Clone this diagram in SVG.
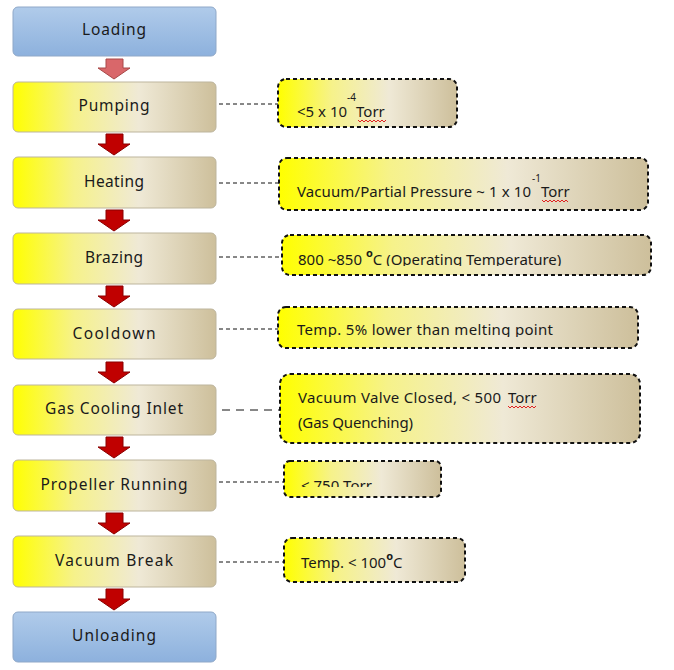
<svg xmlns="http://www.w3.org/2000/svg" width="674" height="670" viewBox="0 0 674 670">
<defs>
  <linearGradient id="gy" x1="0" y1="0" x2="1" y2="0">
    <stop offset="0" stop-color="#ffff00"/>
    <stop offset="0.3" stop-color="#f6f28a"/>
    <stop offset="0.62" stop-color="#efe9d6"/>
    <stop offset="1" stop-color="#cdbf9b"/>
  </linearGradient>
  <linearGradient id="gb" x1="0" y1="0" x2="0" y2="1">
    <stop offset="0" stop-color="#b0cbea"/>
    <stop offset="1" stop-color="#8db1dd"/>
  </linearGradient>
  <clipPath id="c3"><rect x="282" y="235" width="370" height="31"/></clipPath>
  <clipPath id="c4"><rect x="278" y="307" width="360" height="30"/></clipPath>
  <clipPath id="c6"><rect x="284" y="461" width="157" height="26"/></clipPath>
</defs>
<style>
  .step{fill:url(#gy);stroke:#bdb59d;stroke-width:1}
  .end{fill:url(#gb);stroke:#8fa8c8;stroke-width:1}
  .lbl{font-family:"Noto Sans","DejaVu Sans",sans-serif;font-size:15.5px;fill:#1a1a1a;text-anchor:middle}
  .call{fill:url(#gy);stroke:#111;stroke-width:2;stroke-dasharray:4 3}
  .ct{font-family:"Noto Sans","DejaVu Sans",sans-serif;font-size:15px;fill:#1a1a1a}
  .sup{font-size:10px}
  .deg{font-size:11px;font-weight:bold}
  .arr{fill:#c00000;stroke:#8a0000;stroke-width:1}
  .arr1{fill:#d9676a;stroke:#a84848;stroke-width:1}
  .dash{stroke:#111;stroke-width:1;stroke-dasharray:4 3;fill:none}
  .wave{stroke:#e02020;stroke-width:1;fill:none}
</style>

<g id="connectors">
  <path class="arr1" d="M106,59 H123 V68 H130 L114,79 L98,68 H106 Z"/>
  <path class="arr" d="M106,134 H123 V144 H130 L114,155 L98,144 H106 Z"/>
  <path class="arr" d="M106,210 H123 V220 H130 L114,231 L98,220 H106 Z"/>
  <path class="arr" d="M106,286 H123 V296 H130 L114,307 L98,296 H106 Z"/>
  <path class="arr" d="M106,362 H123 V372 H130 L114,383 L98,372 H106 Z"/>
  <path class="arr" d="M106,437 H123 V447 H130 L114,458 L98,447 H106 Z"/>
  <path class="arr" d="M106,513 H123 V523 H130 L114,534 L98,523 H106 Z"/>
  <path class="arr" d="M106,589 H123 V599 H130 L114,610 L98,599 H106 Z"/>
  <line class="dash" x1="219" y1="104" x2="278" y2="104"/>
  <line class="dash" x1="219" y1="183" x2="279" y2="183"/>
  <line class="dash" x1="219" y1="257" x2="282" y2="257"/>
  <line class="dash" x1="219" y1="329" x2="278" y2="329"/>
  <line x1="222" y1="410" x2="280" y2="410" stroke="#111" stroke-width="1" stroke-dasharray="8 6"/>
  <line class="dash" x1="219" y1="482" x2="284" y2="482"/>
  <line class="dash" x1="219" y1="562" x2="284" y2="562"/>
</g>

<g id="loading"><rect class="end" x="13" y="7" width="203" height="49" rx="5"/><text class="lbl" x="114" y="35" textLength="64" lengthAdjust="spacing">Loading</text></g>
<g id="pumping"><rect class="step" x="13" y="82" width="203" height="50" rx="5"/><text class="lbl" x="114" y="111" textLength="71" lengthAdjust="spacing">Pumping</text></g>
<g id="heating"><rect class="step" x="13" y="157" width="203" height="51" rx="5"/><text class="lbl" x="114" y="187" textLength="60" lengthAdjust="spacing">Heating</text></g>
<g id="brazing"><rect class="step" x="13" y="233" width="203" height="51" rx="5"/><text class="lbl" x="114" y="263" textLength="58" lengthAdjust="spacing">Brazing</text></g>
<g id="cooldown"><rect class="step" x="13" y="309" width="203" height="50" rx="5"/><text class="lbl" x="114" y="339" textLength="83" lengthAdjust="spacing">Cooldown</text></g>
<g id="gascooling"><rect class="step" x="13" y="385" width="203" height="50" rx="5"/><text class="lbl" x="114" y="414" textLength="138" lengthAdjust="spacing">Gas Cooling Inlet</text></g>
<g id="propeller"><rect class="step" x="13" y="460" width="203" height="51" rx="5"/><text class="lbl" x="114" y="490" textLength="147" lengthAdjust="spacing">Propeller Running</text></g>
<g id="vacuumbreak"><rect class="step" x="13" y="536" width="203" height="51" rx="5"/><text class="lbl" x="114" y="566" textLength="118" lengthAdjust="spacing">Vacuum Break</text></g>
<g id="unloading"><rect class="end" x="13" y="612" width="203" height="50" rx="5"/><text class="lbl" x="114" y="641" textLength="84" lengthAdjust="spacing">Unloading</text></g>

<g id="note-pumping">
  <rect class="call" x="278" y="79" width="179" height="48" rx="8"/>
  <text class="ct" x="297" y="117">&lt;5 x 10<tspan class="sup" dy="-16">-4</tspan><tspan dy="16">Torr</tspan></text>
  <path class="wave" d="M358,120 l2,2 l2,-2 l2,2 l2,-2 l2,2 l2,-2 l2,2 l2,-2 l2,2 l2,-2 l2,2 l2,-2 l2,2 l2,-2"/>
</g>
<g id="note-heating">
  <rect class="call" x="279" y="158" width="369" height="52" rx="8"/>
  <text class="ct" x="297" y="197" textLength="234" lengthAdjust="spacing">Vacuum/Partial Pressure ~ 1 x 10</text>
  <text class="ct" x="532" y="197"><tspan class="sup" dy="-15">-1</tspan><tspan dy="15">Torr</tspan></text>
  <path class="wave" d="M542,200 l2,2 l2,-2 l2,2 l2,-2 l2,2 l2,-2 l2,2 l2,-2 l2,2 l2,-2 l2,2 l2,-2 l2,2"/>
</g>
<g id="note-brazing">
  <rect class="call" x="282" y="235" width="369" height="40" rx="8"/>
  <g clip-path="url(#c3)">
    <text class="ct" x="298" y="265">800 ~850 <tspan class="deg" dy="-8">o</tspan><tspan dy="8">C (Operating Temperature)</tspan></text>
  </g>
</g>
<g id="note-cooldown">
  <rect class="call" x="278" y="307" width="360" height="41" rx="8"/>
  <g clip-path="url(#c4)">
    <text class="ct" x="297" y="335" textLength="256" lengthAdjust="spacing">Temp. 5% lower than melting point</text>
  </g>
</g>
<g id="note-gascooling">
  <rect class="call" x="280" y="374" width="360" height="69" rx="10"/>
  <text class="ct" x="298" y="403" textLength="203" lengthAdjust="spacing">Vacuum Valve Closed, &lt; 500</text>
  <text class="ct" x="508" y="403">Torr</text>
  <path class="wave" d="M508,406 l2,2 l2,-2 l2,2 l2,-2 l2,2 l2,-2 l2,2 l2,-2 l2,2 l2,-2 l2,2 l2,-2 l2,2 l2,-2"/>
  <text class="ct" x="298" y="428" textLength="115" lengthAdjust="spacing">(Gas Quenching)</text>
</g>
<g id="note-propeller">
  <rect class="call" x="284" y="461" width="157" height="36" rx="6"/>
  <g clip-path="url(#c6)">
    <text class="ct" x="301" y="491">&lt; 750 Torr</text>
  </g>
</g>
<g id="note-vacuumbreak">
  <rect class="call" x="284" y="538" width="181" height="44" rx="8"/>
  <text class="ct" x="301" y="568">Temp. &lt; 100<tspan class="deg" dy="-8">o</tspan><tspan dy="8">C</tspan></text>
</g>
</svg>
